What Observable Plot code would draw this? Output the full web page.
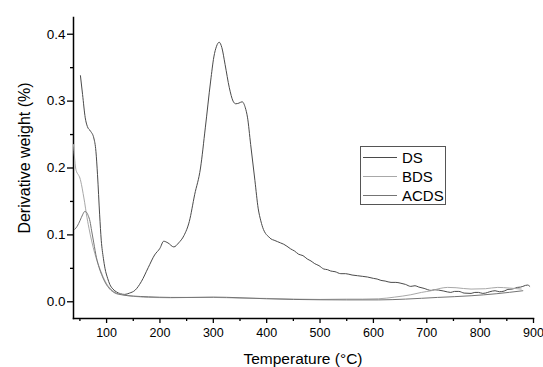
<!DOCTYPE html>
<html>
<head>
<meta charset="utf-8">
<script src="https://cdn.jsdelivr.net/npm/d3@7"></script>
<script src="https://cdn.jsdelivr.net/npm/@observablehq/plot@0.6"></script>
<style>
  html, body { margin: 0; padding: 0; background: #ffffff; }
  #wrap { position: relative; width: 543px; height: 367px; font-family: "Liberation Sans", Arial, sans-serif; }
  #legend { position: absolute; left: 360px; top: 146px; width: 86px; height: 59px; border: 1px solid #555; background: #fff; box-sizing: border-box; }
  .row { position: absolute; left: 2px; height: 19px; display: flex; align-items: center; }
  .sw { width: 34px; height: 0; border-top: 1px solid; margin-right: 5px; }
  .lab { font-size: 15px; color: #000; line-height: 15px; }
</style>
</head>
<body>
<div id="wrap"></div>
<script>
// ---- data ----
const seriesNames = ["DS", "BDS", "ACDS"];
const seriesColors = ["#4a4a4a", "#a8a8a8", "#747474"];
const xTicks = [100, 200, 300, 400, 500, 600, 700, 800, 900];
const xMinorTicks = [50, 150, 250, 350, 450, 550, 650, 750, 850];
const yTicks = [0.0, 0.1, 0.2, 0.3, 0.4];
const yMinorTicks = [0.05, 0.15, 0.25, 0.35];

const dsTemp = [51,55,60,64,70,76,80,83,87,90,94,97,102,106,112,119,126,134,143,153,165,178,190,200,207,215,226,235,245,255,265,276,285,295,301,306,311,316,322,330,337,342,348,354,360,364,370,378,384,389,394,398,404,408,414,420,426,432,438,445,452,460,468,476,483,490,498,507,514,520,528,539,548,560,570,580,589,600,607,614,622,633,642,650,660,670,678,685,695,708,715,722,732,745,752,760,770,783,790,797,805,810,818,828,836,845,852,860,866,870,876,880,885,889,893];
const dsVal  = [0.338,0.31,0.275,0.262,0.255,0.245,0.225,0.19,0.13,0.092,0.065,0.05,0.035,0.026,0.019,0.0145,0.012,0.011,0.013,0.017,0.03,0.051,0.07,0.08,0.0905,0.088,0.082,0.088,0.099,0.12,0.16,0.2,0.26,0.33,0.366,0.382,0.388,0.38,0.355,0.32,0.3,0.296,0.297,0.299,0.29,0.276,0.235,0.181,0.14,0.121,0.108,0.102,0.097,0.094,0.092,0.09,0.088,0.086,0.083,0.079,0.076,0.071,0.069,0.064,0.061,0.057,0.054,0.049,0.048,0.046,0.045,0.042,0.042,0.04,0.039,0.038,0.037,0.035,0.034,0.032,0.031,0.029,0.029,0.028,0.026,0.023,0.024,0.022,0.02,0.017,0.018,0.0175,0.016,0.014,0.0155,0.0155,0.013,0.0125,0.014,0.014,0.0125,0.013,0.015,0.0165,0.015,0.016,0.0185,0.019,0.0205,0.0215,0.022,0.023,0.0245,0.025,0.023];

const bdsTemp = [38,40,42,44,47,50,53,56,59,62,67,72,78,84,92,100,108,116,128,141,160,178,220,260,300,350,400,450,500,550,580,610,640,670,690,708,725,739,755,783,810,833,855,877];
const bdsVal  = [0.235,0.215,0.2,0.194,0.19,0.185,0.175,0.162,0.148,0.132,0.11,0.091,0.072,0.057,0.04,0.027,0.019,0.014,0.011,0.009,0.0075,0.0065,0.006,0.0065,0.0065,0.0055,0.005,0.004,0.0035,0.004,0.004,0.0045,0.007,0.0105,0.014,0.0165,0.02,0.0215,0.021,0.019,0.0195,0.0215,0.0205,0.019];

const acdsTemp = [40,45,50,55,59,62,65.5,69,72,76,81,86,90.5,98,106,116,128,150,178,220,260,300,350,400,450,500,550,610,660,720,783,830,880];
const acdsVal  = [0.108,0.113,0.121,0.13,0.135,0.134,0.129,0.12,0.106,0.088,0.066,0.051,0.041,0.028,0.019,0.013,0.0105,0.0085,0.0075,0.0065,0.0065,0.007,0.006,0.0045,0.0035,0.003,0.0028,0.0028,0.004,0.0065,0.009,0.012,0.0165];

// build table
const rows = [];
[[dsTemp, dsVal], [bdsTemp, bdsVal], [acdsTemp, acdsVal]].forEach(([t, v], i) => {
  t.forEach((tt, j) => rows.push({series: seriesNames[i], t: tt, v: v[j]}));
});

const font = "'Liberation Sans', Arial, sans-serif";

const chart = Plot.plot({
  width: 543,
  height: 367,
  marginLeft: 73,
  marginRight: 10,
  marginTop: 17,
  marginBottom: 49,
  style: {fontFamily: font, fontSize: "12px", color: "#000", background: "transparent"},
  x: {domain: [38, 900]},
  y: {domain: [-0.025, 0.425]},
  color: {domain: seriesNames, range: seriesColors},
  marks: [
    Plot.axisX({ticks: xTicks, tickSize: 5, tickPadding: 5, tickFormat: d3.format("d"), label: null, strokeWidth: 1.3, fontSize: 12.5}),
    Plot.axisX({ticks: xMinorTicks, tickSize: 3, tickFormat: () => "", label: null, strokeWidth: 1.3}),
    Plot.axisY({ticks: yTicks, tickSize: 6, tickPadding: 2, tickFormat: d3.format(".1f"), label: null, strokeWidth: 1.3, fontSize: 13.5}),
    Plot.axisY({ticks: yMinorTicks, tickSize: 3, tickFormat: () => "", label: null, strokeWidth: 1.3}),
    Plot.frame({anchor: "left", stroke: "#000", strokeWidth: 1.5}),
    Plot.frame({anchor: "bottom", stroke: "#000", strokeWidth: 1.5}),
    Plot.line(rows, {x: "t", y: "v", z: "series", stroke: "series", strokeWidth: 1, curve: "monotone-x", clip: true})
  ]
});

const wrap = document.getElementById("wrap");
wrap.appendChild(chart);

// axis titles
const svg = d3.select(chart);
svg.append("text")
  .attr("x", 303).attr("y", 364)
  .attr("text-anchor", "middle")
  .attr("font-family", font).attr("font-size", 15.5).attr("fill", "#000")
  .text("Temperature (°C)");
svg.append("text")
  .attr("transform", "translate(30,158) rotate(-90)")
  .attr("text-anchor", "middle")
  .attr("font-family", font).attr("font-size", 16).attr("fill", "#000")
  .text("Derivative weight (%)");

// legend
const legend = document.createElement("div");
legend.id = "legend";
seriesNames.forEach((name, i) => {
  const row = document.createElement("div");
  row.className = "row";
  row.style.top = (1 + i * 19) + "px";
  const sw = document.createElement("div");
  sw.className = "sw";
  sw.style.borderTopColor = seriesColors[i];
  const lab = document.createElement("span");
  lab.className = "lab";
  lab.textContent = name;
  row.appendChild(sw);
  row.appendChild(lab);
  legend.appendChild(row);
});
wrap.appendChild(legend);
</script>
</body>
</html>
